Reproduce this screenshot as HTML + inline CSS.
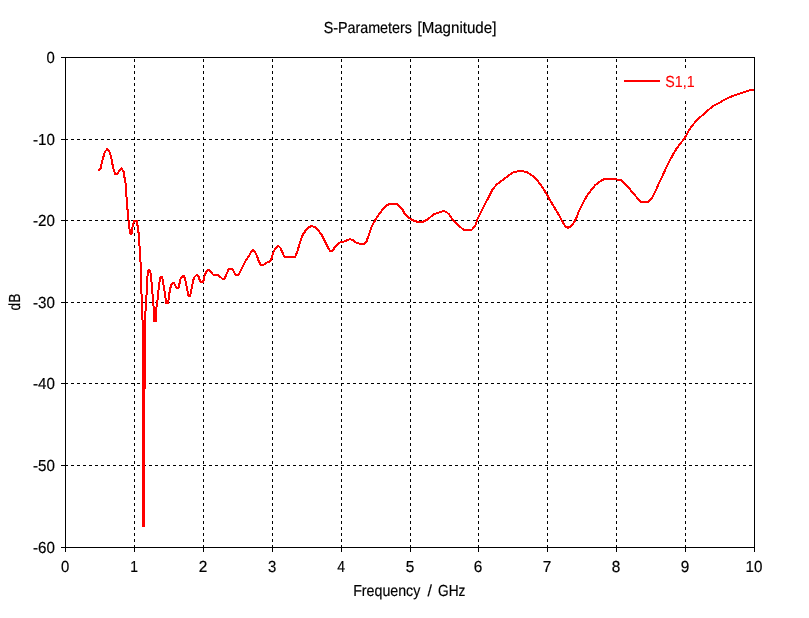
<!DOCTYPE html>
<html lang="en">
<head>
<meta charset="utf-8">
<title>S-Parameters [Magnitude]</title>
<style>
html,body{margin:0;padding:0;background:#fff;}
body{width:809px;height:618px;overflow:hidden;}
svg{display:block;}
text{font-family:"Liberation Sans","DejaVu Sans",sans-serif;font-size:16px;fill:#000;text-rendering:geometricPrecision;stroke:#000;stroke-width:0.2px;}
.g{stroke:#000;stroke-width:1;fill:none;shape-rendering:crispEdges;}
.c{stroke:#f00;stroke-width:2;fill:none;shape-rendering:crispEdges;stroke-linejoin:round;stroke-linecap:butt;}
</style>
</head>
<body>
<svg width="809" height="618" viewBox="0 0 809 618">
<rect x="0" y="0" width="809" height="618" fill="#fff"/>

<g class="g" stroke-dasharray="3 3">
<line x1="134.5" y1="548" x2="134.5" y2="57"/>
<line x1="203.5" y1="548" x2="203.5" y2="57"/>
<line x1="272.5" y1="548" x2="272.5" y2="57"/>
<line x1="341.5" y1="548" x2="341.5" y2="57"/>
<line x1="410.5" y1="548" x2="410.5" y2="57"/>
<line x1="478.5" y1="548" x2="478.5" y2="57"/>
<line x1="547.5" y1="548" x2="547.5" y2="57"/>
<line x1="616.5" y1="548" x2="616.5" y2="57"/>
<line x1="685.5" y1="548" x2="685.5" y2="57"/>
<line x1="65" y1="139.5" x2="754" y2="139.5"/>
<line x1="65" y1="220.5" x2="754" y2="220.5"/>
<line x1="65" y1="302.5" x2="754" y2="302.5"/>
<line x1="65" y1="383.5" x2="754" y2="383.5"/>
<line x1="65" y1="465.5" x2="754" y2="465.5"/>
</g>
<rect x="620" y="68" width="80" height="33" fill="#fff"/>
<polyline class="c" points="98.3,170.6 100.7,168.1 102.6,159.4 105.1,151.4 107.5,148.9 110.0,152.6 111.9,160.7 113.1,168.1 115.0,173.7 117.4,173.7 119.3,170.6 121.5,168.1 123.6,171.8 124.8,179.2 126.1,185.4 126.6,200.0 128.4,218.5 129.8,232.0 130.3,233.6 131.6,233.6 132.8,225.0 134.3,220.6 136.6,220.6 138.3,229.7 139.6,247.0 140.5,262.0 141.5,294.0 142.6,322.0 143.1,400.0 143.3,526.1 143.8,526.1 144.5,391.0 145.5,311.0 146.5,295.0 147.5,276.5 148.3,270.3 149.8,270.3 150.9,274.5 152.0,288.0 152.9,298.0 153.6,306.9 154.4,321.3 155.0,321.3 155.0,311.0 155.0,321.3 155.6,321.3 156.5,306.9 157.7,298.3 158.8,286.5 160.2,278.0 160.6,276.6 162.0,276.6 163.3,283.4 165.1,294.6 166.2,303.0 168.2,303.0 169.2,294.0 170.9,285.5 172.2,283.2 174.2,283.2 175.5,286.0 177.1,288.4 178.7,287.1 180.6,279.0 182.2,276.2 184.0,276.2 185.3,279.7 187.4,290.8 188.4,296.0 190.0,296.0 190.6,293.9 191.9,287.2 193.4,279.8 194.6,276.8 196.4,275.2 197.7,275.2 198.7,276.8 200.1,281.3 200.8,282.3 202.4,282.3 203.4,281.0 204.5,276.1 206.0,272.3 207.8,270.3 209.3,270.3 210.5,271.6 213.1,274.6 217.9,274.9 220.5,277.2 222.6,278.9 224.2,278.9 225.4,276.8 226.9,273.1 228.3,270.1 229.4,268.8 232.2,268.8 233.2,270.5 235.0,273.8 235.8,274.9 238.2,274.9 239.1,273.8 241.0,270.1 242.9,266.0 245.1,261.9 247.3,258.2 249.6,254.8 251.2,251.6 252.9,249.9 255.0,251.5 257.1,256.5 259.1,262.0 260.6,264.7 263.7,264.7 266.1,263.0 269.8,261.4 271.4,258.9 272.9,253.4 275.4,248.4 278.1,245.7 280.3,247.8 282.6,252.8 284.4,256.6 285.6,256.9 295.2,256.9 297.4,251.3 300.2,241.9 302.8,234.8 305.9,230.2 309.2,226.8 312.2,226.1 315.3,227.3 318.8,230.8 322.6,236.4 325.1,241.9 327.6,246.9 329.8,250.6 332.6,250.6 335.1,246.9 338.2,243.4 341.3,241.9 345.0,241.3 348.1,239.7 350.3,239.1 353.0,240.3 356.7,242.9 359.8,243.8 364.2,243.8 366.6,241.3 368.5,235.7 371.0,228.3 374.7,220.9 378.4,215.3 382.1,210.3 385.7,206.0 389.3,204.0 397.3,204.0 400.4,207.1 402.9,210.2 404.7,213.9 407.8,217.0 410.9,219.1 414.0,220.7 417.1,221.7 423.3,221.7 426.4,220.1 429.4,218.0 433.2,214.7 436.9,213.0 440.6,212.0 443.7,211.0 446.7,212.3 449.2,214.5 451.7,218.2 454.8,221.9 457.9,225.0 461.6,228.1 464.1,230.0 471.5,230.0 473.9,227.5 475.8,224.4 477.5,219.3 481.1,211.8 484.8,204.4 488.5,197.6 492.2,190.2 496.0,185.2 499.7,182.1 504.6,178.7 509.6,174.7 513.3,172.2 518.2,171.3 523.2,171.3 527.5,172.5 531.8,175.3 536.7,179.7 540.5,184.6 544.2,190.2 547.5,195.7 550.3,200.7 554.1,206.9 557.8,213.0 561.5,219.8 563.5,223.5 565.5,226.7 567.9,227.7 570.4,226.7 573.5,223.0 576.0,218.7 578.4,212.5 580.9,207.0 584.0,200.8 587.7,194.6 591.4,189.7 595.1,185.3 599.4,182.0 603.8,179.2 615.5,179.2 621.1,180.4 624.8,183.5 628.5,187.2 632.2,192.1 636.5,197.1 640.9,201.7 648.5,201.7 652.2,197.4 655.3,191.8 658.4,184.4 662.1,177.0 665.8,168.3 669.6,160.9 673.3,154.1 677.0,147.9 680.7,143.0 684.4,138.7 688.5,131.2 692.2,125.6 696.0,121.3 699.7,117.6 704.6,113.3 709.6,108.9 714.5,105.2 719.4,102.8 724.4,99.7 729.3,97.4 734.3,95.3 739.2,93.7 744.2,92.2 749.1,90.4 752.2,89.8 754.5,89.8"/>
<line class="c" x1="624" y1="81" x2="660" y2="81"/>
<text transform="translate(665.33,87) scale(0.8889,1)" style="fill:#f00;stroke:#f00;stroke-width:0.1px">S1,1</text>
<g class="g">
<rect x="65.5" y="57.5" width="689" height="490"/>
<line x1="61" y1="57.5" x2="65" y2="57.5"/>
<line x1="61" y1="139.5" x2="65" y2="139.5"/>
<line x1="61" y1="220.5" x2="65" y2="220.5"/>
<line x1="61" y1="302.5" x2="65" y2="302.5"/>
<line x1="61" y1="383.5" x2="65" y2="383.5"/>
<line x1="61" y1="465.5" x2="65" y2="465.5"/>
<line x1="61" y1="547.5" x2="65" y2="547.5"/>
<line x1="65.5" y1="547" x2="65.5" y2="552"/>
<line x1="134.5" y1="547" x2="134.5" y2="552"/>
<line x1="203.5" y1="547" x2="203.5" y2="552"/>
<line x1="272.5" y1="547" x2="272.5" y2="552"/>
<line x1="341.5" y1="547" x2="341.5" y2="552"/>
<line x1="410.5" y1="547" x2="410.5" y2="552"/>
<line x1="478.5" y1="547" x2="478.5" y2="552"/>
<line x1="547.5" y1="547" x2="547.5" y2="552"/>
<line x1="616.5" y1="547" x2="616.5" y2="552"/>
<line x1="685.5" y1="547" x2="685.5" y2="552"/>
<line x1="754.5" y1="547" x2="754.5" y2="552"/>
</g>
<text y="33"><tspan x="323.63" textLength="88.28" lengthAdjust="spacingAndGlyphs">S-Parameters</tspan> <tspan x="417.46" textLength="78.89" lengthAdjust="spacingAndGlyphs">[Magnitude]</tspan></text>
<text y="596"><tspan x="353.19" textLength="67.09" lengthAdjust="spacingAndGlyphs">Frequency</tspan> <tspan x="427.50" textLength="4.45" lengthAdjust="spacingAndGlyphs">/</tspan> <tspan x="438.06" textLength="27.38" lengthAdjust="spacingAndGlyphs">GHz</tspan></text>
<text transform="translate(19.8,310.53) rotate(-90) scale(0.8658,1)">dB</text>
<text transform="translate(46.54,63) scale(0.9290,1)">0</text>
<text transform="translate(32.93,145) scale(0.9455,1)">-10</text>
<text transform="translate(32.93,226) scale(0.9455,1)">-20</text>
<text transform="translate(32.93,308) scale(0.9455,1)">-30</text>
<text transform="translate(32.93,389) scale(0.9455,1)">-40</text>
<text transform="translate(32.93,471) scale(0.9455,1)">-50</text>
<text transform="translate(32.93,553) scale(0.9455,1)">-60</text>
<text transform="translate(61.04,572) scale(0.9290,1)">0</text>
<text transform="translate(130.28,572) scale(0.8690,1)">1</text>
<text transform="translate(198.78,572) scale(0.9600,1)">2</text>
<text transform="translate(268.04,572) scale(0.9290,1)">3</text>
<text transform="translate(337.28,572) scale(0.8727,1)">4</text>
<text transform="translate(405.78,572) scale(0.9600,1)">5</text>
<text transform="translate(473.78,572) scale(0.9600,1)">6</text>
<text transform="translate(542.78,572) scale(0.9600,1)">7</text>
<text transform="translate(611.78,572) scale(0.9600,1)">8</text>
<text transform="translate(680.78,572) scale(0.9600,1)">9</text>
<text transform="translate(745.45,572) scale(0.9477,1)">10</text>
</svg>
</body>
</html>
